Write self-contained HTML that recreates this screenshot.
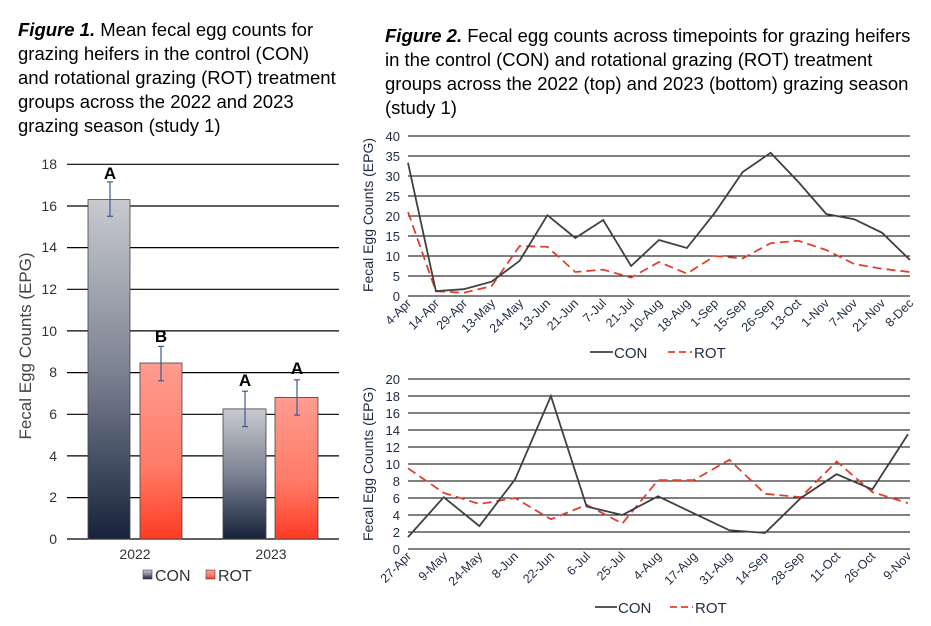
<!DOCTYPE html>
<html><head><meta charset="utf-8"><style>
html,body{margin:0;padding:0;background:#fff;}
svg{display:block;font-family:"Liberation Sans",Arial,sans-serif;}
</style></head><body>
<svg width="931" height="626" viewBox="0 0 931 626" xmlns="http://www.w3.org/2000/svg">
<defs>
<linearGradient id="gc" x1="0" y1="0" x2="0" y2="1"><stop offset="0" stop-color="#c8cacf"/><stop offset="0.5" stop-color="#7c8393"/><stop offset="1" stop-color="#17233b"/></linearGradient>
<linearGradient id="gr" x1="0" y1="0" x2="0" y2="1"><stop offset="0" stop-color="#ff9c90"/><stop offset="0.6" stop-color="#ff7a66"/><stop offset="1" stop-color="#ff3a22"/></linearGradient>
</defs>
<g font-size="18.5" fill="#000">
<text x="18" y="36"><tspan font-weight="bold" font-style="italic">Figure 1.</tspan> Mean fecal egg counts for</text>
<text x="18" y="60">grazing heifers in the control (CON)</text>
<text x="18" y="84">and rotational grazing (ROT) treatment</text>
<text x="18" y="108">groups across the 2022 and 2023</text>
<text x="18" y="132">grazing season (study 1)</text>
<text x="385" y="42"><tspan font-weight="bold" font-style="italic">Figure 2.</tspan> Fecal egg counts across timepoints for grazing heifers</text>
<text x="385" y="66">in the control (CON) and rotational grazing (ROT) treatment</text>
<text x="385" y="90">groups across the 2022 (top) and 2023 (bottom) grazing season</text>
<text x="385" y="114">(study 1)</text>
</g>
<!-- Figure 1 -->
<g stroke="#000" stroke-width="1.2">
<line x1="67" x2="339" y1="164.3" y2="164.3"/><line x1="67" x2="339" y1="206" y2="206"/><line x1="67" x2="339" y1="247.6" y2="247.6"/><line x1="67" x2="339" y1="289.3" y2="289.3"/><line x1="67" x2="339" y1="330.9" y2="330.9"/><line x1="67" x2="339" y1="372.6" y2="372.6"/><line x1="67" x2="339" y1="414.3" y2="414.3"/><line x1="67" x2="339" y1="455.9" y2="455.9"/><line x1="67" x2="339" y1="497.6" y2="497.6"/><line x1="67" x2="339" y1="539" y2="539"/>
</g>
<g font-size="14" fill="#333" text-anchor="end">
<text x="57" y="169">18</text><text x="57" y="211">16</text><text x="57" y="252">14</text><text x="57" y="294">12</text><text x="57" y="336">10</text><text x="57" y="377">8</text><text x="57" y="419">6</text><text x="57" y="461">4</text><text x="57" y="502">2</text><text x="57" y="544">0</text>
</g>
<text transform="translate(31,346) rotate(-90)" font-size="17" fill="#444" text-anchor="middle">Fecal Egg Counts (EPG)</text>
<rect x="88" y="199.6" width="42" height="339.4" fill="url(#gc)" stroke="#444" stroke-width="0.8"/>
<rect x="140" y="363" width="42" height="176" fill="url(#gr)" stroke="#444" stroke-width="0.8"/>
<rect x="223" y="408.9" width="43" height="130.1" fill="url(#gc)" stroke="#444" stroke-width="0.8"/>
<rect x="275" y="397.4" width="43" height="141.6" fill="url(#gr)" stroke="#444" stroke-width="0.8"/>
<g stroke="#3a5a95" stroke-width="1.2">
<line x1="110" x2="110" y1="181.9" y2="216.3"/><line x1="107" x2="113" y1="181.9" y2="181.9"/><line x1="107" x2="113" y1="216.3" y2="216.3"/>
<line x1="161" x2="161" y1="346.4" y2="380.8"/><line x1="158" x2="164" y1="346.4" y2="346.4"/><line x1="158" x2="164" y1="380.8" y2="380.8"/>
<line x1="245" x2="245" y1="391.2" y2="426.6"/><line x1="242" x2="248" y1="391.2" y2="391.2"/><line x1="242" x2="248" y1="426.6" y2="426.6"/>
<line x1="297" x2="297" y1="379.8" y2="415.1"/><line x1="294" x2="300" y1="379.8" y2="379.8"/><line x1="294" x2="300" y1="415.1" y2="415.1"/>
</g>
<g font-size="17" font-weight="bold" text-anchor="middle" fill="#000">
<text x="110" y="179">A</text><text x="161" y="342">B</text><text x="245" y="386">A</text><text x="297" y="374">A</text>
</g>
<g font-size="14" fill="#333" text-anchor="middle">
<text x="135" y="559">2022</text><text x="271" y="559">2023</text></g>
<rect x="143" y="570" width="9" height="9" fill="url(#gc)" stroke="#444" stroke-width="0.6"/>
<text x="155" y="581" font-size="16" fill="#333">CON</text>
<rect x="206" y="570" width="9" height="9" fill="url(#gr)" stroke="#444" stroke-width="0.6"/>
<text x="218" y="581" font-size="16" fill="#333">ROT</text>
<!-- Figure 2 top -->
<g stroke="#000" stroke-width="1">
<line x1="408" x2="910" y1="136" y2="136"/><line x1="408" x2="910" y1="156" y2="156"/><line x1="408" x2="910" y1="176" y2="176"/><line x1="408" x2="910" y1="196" y2="196"/><line x1="408" x2="910" y1="216" y2="216"/><line x1="408" x2="910" y1="236" y2="236"/><line x1="408" x2="910" y1="256" y2="256"/><line x1="408" x2="910" y1="276" y2="276"/><line x1="408" x2="910" y1="296" y2="296"/>
</g>
<g font-size="13" fill="#1f2a44" text-anchor="end">
<text x="400" y="141">40</text><text x="400" y="161">35</text><text x="400" y="181">30</text><text x="400" y="201">25</text><text x="400" y="221">20</text><text x="400" y="241">15</text><text x="400" y="261">10</text><text x="400" y="281">5</text><text x="400" y="301">0</text>
</g>
<text transform="translate(373,215) rotate(-90)" font-size="14" fill="#1f2a44" text-anchor="middle">Fecal Egg Counts (EPG)</text>
<polyline fill="none" stroke="#e0412e" stroke-width="1.8" stroke-dasharray="9,5" points="408,212 435.9,291.2 463.8,292.8 491.7,286 519.6,246 547.4,246.8 575.3,272 603.2,269.6 631.1,277.6 659,262 686.9,273.6 714.8,256 742.7,258.4 770.6,243.2 798.4,240.8 826.3,250 854.2,264 882.1,268.8 910,272"/>
<polyline fill="none" stroke="#404040" stroke-width="1.8" points="408,162.8 435.9,291.2 463.8,289.2 491.7,281.6 519.6,260.8 547.4,215.2 575.3,238 603.2,220 631.1,266 659,240 686.9,248 714.8,212.8 742.7,172 770.6,152.8 798.4,182 826.3,214 854.2,219.2 882.1,232.8 910,260"/>
<line x1="590" x2="613" y1="352" y2="352" stroke="#404040" stroke-width="1.8"/>
<text x="614" y="358" font-size="15" fill="#1f2a44">CON</text>
<line x1="668" x2="692" y1="352" y2="352" stroke="#e0412e" stroke-width="1.8" stroke-dasharray="7,4"/>
<text x="694" y="358" font-size="15" fill="#1f2a44">ROT</text>
<!-- Figure 2 bottom -->
<g stroke="#000" stroke-width="1">
<line x1="408" x2="910" y1="379" y2="379"/><line x1="408" x2="910" y1="396" y2="396"/><line x1="408" x2="910" y1="413" y2="413"/><line x1="408" x2="910" y1="430" y2="430"/><line x1="408" x2="910" y1="447" y2="447"/><line x1="408" x2="910" y1="464" y2="464"/><line x1="408" x2="910" y1="481" y2="481"/><line x1="408" x2="910" y1="498" y2="498"/><line x1="408" x2="910" y1="515" y2="515"/><line x1="408" x2="910" y1="532" y2="532"/><line x1="408" x2="910" y1="549" y2="549"/>
</g>
<g font-size="13" fill="#1f2a44" text-anchor="end">
<text x="400" y="384">20</text><text x="400" y="401">18</text><text x="400" y="418">16</text><text x="400" y="435">14</text><text x="400" y="452">12</text><text x="400" y="469">10</text><text x="400" y="486">8</text><text x="400" y="503">6</text><text x="400" y="520">4</text><text x="400" y="537">2</text><text x="400" y="554">0</text>
</g>
<text transform="translate(373,464) rotate(-90)" font-size="14" fill="#1f2a44" text-anchor="middle">Fecal Egg Counts (EPG)</text>
<polyline fill="none" stroke="#e0412e" stroke-width="1.8" stroke-dasharray="9,5" points="408,468.3 443.7,492.9 479.4,504 515.1,498 550.9,519.3 586.6,504.8 622.3,523.5 658,480.2 693.7,480.2 729.4,459.8 765.1,493.8 800.9,497.2 836.6,461.5 872.3,492.1 908,503.1"/>
<polyline fill="none" stroke="#404040" stroke-width="1.8" points="408,537.1 443.7,497.2 479.4,526.1 515.1,479.3 550.9,396 586.6,506.5 622.3,515 658,496.3 693.7,513.3 729.4,530.3 765.1,532.9 800.9,498 836.6,474.2 872.3,489.5 908,434.3"/>
<line x1="595" x2="617" y1="607" y2="607" stroke="#404040" stroke-width="1.8"/>
<text x="618" y="613" font-size="15" fill="#1f2a44">CON</text>
<line x1="670" x2="693" y1="607" y2="607" stroke="#e0412e" stroke-width="1.8" stroke-dasharray="7,4"/>
<text x="695" y="613" font-size="15" fill="#1f2a44">ROT</text>
<g font-size="12.5" fill="#1f2a44" text-anchor="end">
<text transform="translate(412,304) rotate(-45)">4-Apr</text>
<text transform="translate(440,304) rotate(-45)">14-Apr</text>
<text transform="translate(468,304) rotate(-45)">29-Apr</text>
<text transform="translate(496,304) rotate(-45)">13-May</text>
<text transform="translate(524,304) rotate(-45)">24-May</text>
<text transform="translate(551,304) rotate(-45)">13-Jun</text>
<text transform="translate(579,304) rotate(-45)">21-Jun</text>
<text transform="translate(607,304) rotate(-45)">7-Jul</text>
<text transform="translate(635,304) rotate(-45)">21-Jul</text>
<text transform="translate(663,304) rotate(-45)">10-Aug</text>
<text transform="translate(691,304) rotate(-45)">18-Aug</text>
<text transform="translate(719,304) rotate(-45)">1-Sep</text>
<text transform="translate(747,304) rotate(-45)">15-Sep</text>
<text transform="translate(775,304) rotate(-45)">26-Sep</text>
<text transform="translate(802,304) rotate(-45)">13-Oct</text>
<text transform="translate(830,304) rotate(-45)">1-Nov</text>
<text transform="translate(858,304) rotate(-45)">7-Nov</text>
<text transform="translate(886,304) rotate(-45)">21-Nov</text>
<text transform="translate(914,304) rotate(-45)">8-Dec</text>
<text transform="translate(412,557) rotate(-45)">27-Apr</text>
<text transform="translate(448,557) rotate(-45)">9-May</text>
<text transform="translate(483,557) rotate(-45)">24-May</text>
<text transform="translate(519,557) rotate(-45)">8-Jun</text>
<text transform="translate(555,557) rotate(-45)">22-Jun</text>
<text transform="translate(591,557) rotate(-45)">6-Jul</text>
<text transform="translate(626,557) rotate(-45)">25-Jul</text>
<text transform="translate(662,557) rotate(-45)">4-Aug</text>
<text transform="translate(698,557) rotate(-45)">17-Aug</text>
<text transform="translate(733,557) rotate(-45)">31-Aug</text>
<text transform="translate(769,557) rotate(-45)">14-Sep</text>
<text transform="translate(805,557) rotate(-45)">28-Sep</text>
<text transform="translate(841,557) rotate(-45)">11-Oct</text>
<text transform="translate(876,557) rotate(-45)">26-Oct</text>
<text transform="translate(912,557) rotate(-45)">9-Nov</text>
</g>
</svg>
</body></html>
